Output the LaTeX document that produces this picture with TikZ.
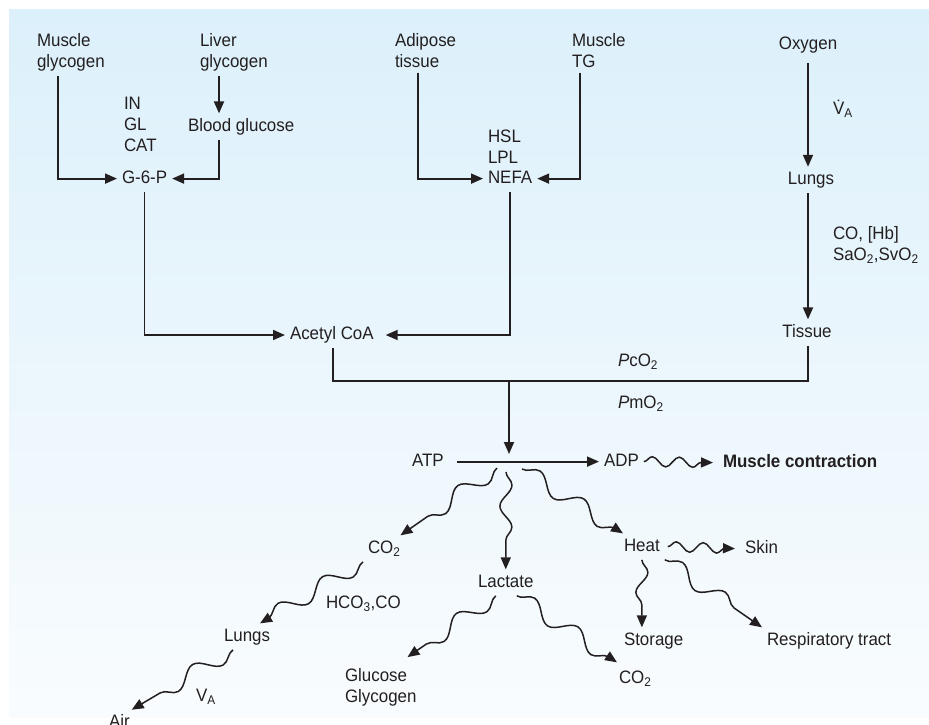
\documentclass[tikz,border=0pt]{standalone}
\usepackage{fontspec}
\setmainfont[FakeStretch=0.94]{Liberation Sans}
\usetikzlibrary{arrows.meta,decorations.pathmorphing}
\definecolor{ink}{HTML}{231F20}
\definecolor{bgtop}{RGB}{220,240,251}
\definecolor{bgbot}{RGB}{249,252,254}
\begin{document}
\begin{tikzpicture}[x=1pt,y=-1pt,
  every node/.style={inner sep=0pt, outer sep=5pt, text=ink, font=\fontsize{18}{21}\selectfont},
  t/.style={anchor=west, text height=13pt, text depth=3.5pt},
  tc/.style={anchor=center, text height=13pt, text depth=3.5pt},
  ml/.style={anchor=west, align=left},
  ln/.style={draw=ink, line width=1.8pt},
  arr/.style={draw=ink, line width=1.8pt, -{Triangle[length=12pt,width=10pt]}},
  wv/.style 2 args={draw=ink, line width=1.5pt, decorate,
     decoration={snake, amplitude=#1, segment length=#2, post length=9pt},
     -{Triangle[length=12pt,width=10pt]}}
]
\useasboundingbox (0,0) rectangle (929,724);
\shade[top color=bgtop, bottom color=bgbot] (9,9) rectangle (929,717);

% columns and free points
\coordinate (c58) at (58,0);
\coordinate (c219) at (219,0);
\coordinate (c333) at (333,0);
\coordinate (c418) at (418,0);
\coordinate (c580) at (580,0);
\coordinate (c808) at (808,0);
\coordinate (junc) at (509,381);
\coordinate (hit) at (509,454);
\coordinate (s1) at (497,468);
\coordinate (s2) at (506,472);
\coordinate (s3) at (522,469);

% top nodes
\node[ml] (mg) at (32,52.3) {Muscle\\glycogen};
\node[ml] (lg) at (195,52.3) {Liver\\glycogen};
\node[ml] (igc) at (119,124) {IN\\GL\\CAT};
\node[t] (bg) at (183,126.6) {Blood glucose};
\node[t] (g6p) at (117,178.6) {G-6-P};
\node[ml] (at) at (390,50.5) {Adipose\\tissue};
\node[ml] (mtg) at (567,50.5) {Muscle\\TG};
\node[ml] (enz) at (483,146.5) {HSL\\LPL};
\node[t] (nefa) at (483,178.6) {NEFA};
\node[t] (acoa) at (285,335) {Acetyl CoA};
\node[tc] (ox) at (808,44.6) {Oxygen};
\node[t] (va) at (828,110) {\.{V}\textsubscript{A}};
\node[tc] (lungsa) at (811,180) {Lungs};
\node[ml] (cohb) at (828,245) {CO, [Hb]\\SaO\textsubscript{2},SvO\textsubscript{2}};
\node[tc] (tissue) at (807,332.6) {Tissue};
\node[t] (pco) at (613,361.6) {\textit{P}cO\textsubscript{2}};
\node[t] (pmo) at (613,403.6) {\textit{P}mO\textsubscript{2}};

% middle
\node[t] (atp) at (407,461.6) {ATP};
\node[t] (adp) at (599,461.6) {ADP};
\node[t] (mc) at (718,462.6) {\bfseries Muscle contraction};

% lower
\node[t] (co2a) at (363,548.6) {CO\textsubscript{2}};
\node[t] (lac) at (473,582.6) {Lactate};
\node[t] (heat) at (619,546.6) {Heat};
\node[t] (skin) at (740,548.6) {Skin};
\node[t] (stor) at (619,640.6) {Storage};
\node[t] (resp) at (762,640.6) {Respiratory tract};
\node[t] (hco) at (321,603.6) {HCO\textsubscript{3},CO};
\node[t] (lungsb) at (219,636.6) {Lungs};
\node[t] (vab) at (191,696.6) {V\textsubscript{A}};
\node[t] (air) at (104,723) {Air};
\node[ml] (gg) at (340,687) {Glucose\\Glycogen};
\node[t] (co2b) at (614,678.6) {CO\textsubscript{2}};

% straight connectors
\draw[arr] (mg.south -| c58) |- (g6p.west);
\draw[arr] (lg.south -| c219) -- (bg.north -| c219);
\draw[arr] (bg.south -| c219) |- (g6p.east);
\draw[arr] (g6p.south) |- (acoa.west);
\draw[arr] (at.south -| c418) |- (nefa.west);
\draw[arr] (mtg.south -| c580) |- (nefa.east);
\draw[arr, shorten >=7pt] (nefa.south) |- (acoa.east);
\draw[ln] (acoa.south -| c333) |- (junc);
\draw[ln] (tissue.south -| c808) |- (junc);
\draw[arr] (junc) -- (hit);
\draw[arr, shorten <=8pt] (atp.east) -- (adp.west);
\draw[arr, shorten <=5pt] (ox.south -| c808) -- (lungsa.north -| c808);
\draw[arr] (lungsa.south -| c808) -- (tissue.north -| c808);

% wavy connectors
\draw[wv={5pt}{27pt}] (adp.east) -- ([xshift=-5pt]mc.west);
\draw[wv={8pt}{52pt}] (s1) -- ([xshift=-5pt]co2a.north east);
\draw[wv={6pt}{42pt}] (s2) -- (lac.north);
\draw[wv={8pt}{52pt}] (s3) -- ([xshift=4pt]heat.north west);
\draw[wv={5pt}{27pt}] ([xshift=3pt]heat.east) -- ([xshift=-5pt]skin.west);
\draw[wv={6pt}{40pt}] (heat.south) -- (heat.south |- stor.north);
\draw[wv={8pt}{52pt}] (heat.south east) -- (resp.north west);
\draw[wv={8pt}{52pt}] ([xshift=-10pt]lac.south) -- ([xshift=-14pt,yshift=6pt]gg.north east);
\draw[wv={8pt}{52pt}] ([xshift=11pt]lac.south) -- ([xshift=3pt,yshift=3pt]co2b.north west);
\draw[wv={8pt}{52pt}] (co2a.south west) -- ([xshift=13pt]lungsb.north);
\draw[wv={8pt}{52pt}] ([xshift=-14pt]lungsb.south) -- ([xshift=-3pt]air.north east);
\end{tikzpicture}
\end{document}
